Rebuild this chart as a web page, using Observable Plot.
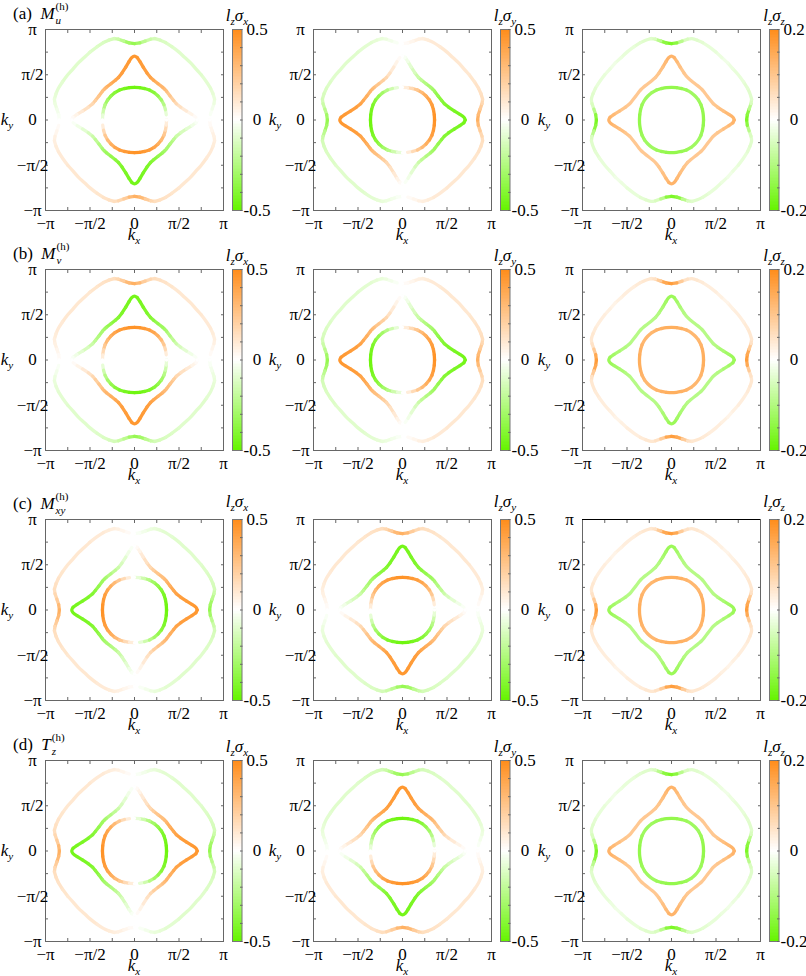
<!DOCTYPE html>
<html><head><meta charset="utf-8">
<script src="https://cdn.jsdelivr.net/npm/d3@7"></script>
<script src="https://cdn.jsdelivr.net/npm/@observablehq/plot@0.6"></script>
<style>
body{margin:0;background:#fff;}
#root{position:relative;width:806px;height:976px;font-family:"Liberation Serif","Times New Roman",Times,"DejaVu Serif",serif;color:#000;overflow:hidden;}
.abs{position:absolute;white-space:nowrap;line-height:20px;height:20px;}
.it{font-style:italic;}
.lab{font-size:17px;}
.sb{font-size:11px;position:relative;top:4px;}
.ss{position:relative;display:inline-block;width:22px;height:20px;vertical-align:top;}
.ss span{position:absolute;left:1px;font-size:11px;line-height:11px;}
</style>
</head><body><div id="root"></div>
<script>
// ---------- DATA ----------
// Fermi-surface contours, first octant (from +kx axis to the diagonal); kx, ky in units of π
const innerKx  = [0.360, 0.357, 0.348, 0.331, 0.303, 0.265];
const innerKy  = [0.000, 0.057, 0.113, 0.168, 0.220, 0.265];
const middleKx = [0.705, 0.690, 0.645, 0.585, 0.520, 0.470, 0.440, 0.400, 0.360, 0.340];
const middleKy = [0.000, 0.030, 0.062, 0.098, 0.140, 0.180, 0.215, 0.265, 0.318, 0.340];
const outerKx  = [0.844, 0.852, 0.872, 0.893, 0.900, 0.882, 0.855, 0.810, 0.750, 0.690, 0.631];
const outerKy  = [0.000, 0.060, 0.120, 0.180, 0.230, 0.290, 0.350, 0.420, 0.500, 0.565, 0.631];

// odd texture (lzσx of panel a) along the first quadrant, from +kx axis to +ky axis
const oddInner  = [0, -0.08, -0.16, -0.24, -0.30, -0.35, -0.39, -0.42, -0.44, -0.46, -0.47];
const oddMiddle = [0, 0.02, 0.05, 0.09, 0.13, 0.17, 0.21, 0.25, 0.28, 0.30, 0.32, 0.35, 0.38, 0.40, 0.42, 0.43, 0.44, 0.45, 0.45];
const oddOuter  = [0, -0.02, -0.04, -0.06, -0.07, -0.08, -0.09, -0.09, -0.10, -0.10, -0.10,
                   -0.10, -0.10, -0.11, -0.12, -0.13, -0.14, -0.17, -0.22, -0.30, -0.34];
// even texture (lzσz of panel a) along the first octant
const evenInner  = [-0.14, -0.14, -0.135, -0.13, -0.125, -0.125];
const evenMiddle = [0.13, 0.13, 0.12, 0.11, 0.10, 0.095, 0.095, 0.095, 0.095, 0.095];
const evenOuter  = [-0.17, -0.15, -0.09, -0.05, -0.04, -0.04, -0.035, -0.03, -0.03, -0.025, -0.02];

// panels: texture (A = ky-odd, B = kx-odd, E = even) and its sign
const rowTags = ["(a)", "(b)", "(c)", "(d)"];
const rowOps = [["M", "u"], ["M", "v"], ["M", "xy"], ["T", "z"]];
const colComponents = ["x", "y", "z"];
const colRanges = [0.5, 0.5, 0.2];
const rowTextures = [["A", "B", "E"], ["A", "B", "E"], ["B", "A", "E"], ["B", "A", "E"]];
const rowSigns = [[1, 1, 1], [-1, 1, -1], [-1, -1, -1], [-1, 1, 1]];

const axisTicks = [-1, -0.5, 0, 0.5, 1];
const axisTickLabels = ["−π", "−π/2", "0", "π/2", "π"];
const minorTicks = [-0.75, -0.5, -0.25, 0, 0.25, 0.5, 0.75];

// ---------- LAYOUT ----------
const FONT = '"Liberation Serif", "Times New Roman", Times, "DejaVu Serif", serif';
const frameTops = [29, 269, 519, 760];
const frameLefts = [45, 313, 582];
const FW = 178, FH = 181;
const titleGap = [11, 11, 15, 11];
const ORANGE = "#ff8c19", GREEN = "#66f500";

const bands = [
  {kx: outerKx, ky: outerKy, odd: oddOuter, even: evenOuter},
  {kx: middleKx, ky: middleKy, odd: oddMiddle, even: evenMiddle},
  {kx: innerKx, ky: innerKy, odd: oddInner, even: evenInner}
];

function quadrant(kxs, kys) {
  const n = kxs.length - 1, qx = [], qy = [];
  for (let k = 0; k <= 2 * n; k++) {
    if (k <= n) { qx.push(kxs[k]); qy.push(kys[k]); }
    else { qx.push(kys[2 * n - k]); qy.push(kxs[2 * n - k]); }
  }
  return [qx, qy];
}
function loop(band, texture, sign, id) {
  const [qx, qy] = quadrant(band.kx, band.ky);
  const m = qx.length - 1, n = band.even.length - 1;
  const ev = k => band.even[k <= n ? k : 2 * n - k];
  const val = (k, sx, sy) => sign * (texture === "A" ? sy * band.odd[k]
                                   : texture === "B" ? -sx * band.odd[m - k] : ev(k));
  const pts = [];
  for (let k = 0; k <= m; k++) pts.push({kx: qx[k], ky: qy[k], v: val(k, 1, 1)});
  for (let j = 1; j <= m; j++) { const k = m - j; pts.push({kx: -qx[k], ky: qy[k], v: val(k, -1, 1)}); }
  for (let j = 1; j <= m; j++) { const k = j; pts.push({kx: -qx[k], ky: -qy[k], v: val(k, -1, -1)}); }
  for (let j = 1; j <= m; j++) { const k = m - j; pts.push({kx: qx[k], ky: -qy[k], v: val(k, 1, -1)}); }
  return pts.map(p => ({...p, band: id}));
}

const root = document.getElementById("root");
function place(node, left, top) {
  node.style.position = "absolute"; node.style.left = left + "px"; node.style.top = top + "px";
  root.appendChild(node);
}
function html(str, x, y, cls, anchor) {
  const d = document.createElement("div");
  d.className = "abs " + (cls || "");
  d.innerHTML = str;
  d.style.left = x + "px"; d.style.top = y + "px";
  d.style.transform = anchor || "translate(-50%,-50%)";
  root.appendChild(d);
}
const tickFmt = d => axisTickLabels[axisTicks.indexOf(d)];
const ML = 45, MR = 6, MT = 6, MB = 26;
const plotStyle = {fontFamily: FONT, fontSize: "17px", color: "#000", background: "transparent", overflow: "visible"};

for (let r = 0; r < 4; r++) {
  for (let c = 0; c < 3; c++) {
    const R = colRanges[c];
    const colorScale = {type: "linear", domain: [-R, 0, R], range: [GREEN, "#ffffff", ORANGE], clamp: true};
    const data = bands.flatMap((b, i) => loop(b, rowTextures[r][c], rowSigns[r][c], i));
    const left = frameLefts[c], top = frameTops[r];
    const chart = Plot.plot({
      width: FW + ML + MR, height: FH + MT + MB,
      marginLeft: ML, marginRight: MR, marginTop: MT, marginBottom: MB,
      x: {domain: [-1, 1]}, y: {domain: [-1, 1]},
      color: colorScale,
      style: plotStyle,
      marks: [
        bands.map((b, i) => Plot.line(data.filter(d => d.band === i), {
          x: "kx", y: "ky", z: null, stroke: "v", strokeWidth: 3.3,
          curve: "catmull-rom", strokeLinecap: "round", strokeLinejoin: "round"
        })),
        Plot.frame({stroke: "#666", strokeWidth: 1}),
        (r === 2 && c === 2) ? Plot.ruleY([1], {stroke: "#000", strokeWidth: 1.2}) : null,
        Plot.axisX(minorTicks, {anchor: "bottom", tickSize: -3, tickFormat: () => "", label: null, stroke: "#666"}),
        Plot.axisX(minorTicks, {anchor: "top", tickSize: -3, tickFormat: () => "", label: null, stroke: "#666"}),
        Plot.axisY(minorTicks, {anchor: "left", tickSize: -3, tickFormat: () => "", label: null, stroke: "#666"}),
        Plot.axisY(minorTicks, {anchor: "right", tickSize: -3, tickFormat: () => "", label: null, stroke: "#666"}),
        Plot.text(axisTicks, {x: d => d, frameAnchor: "bottom", dy: 6, lineAnchor: "top", text: tickFmt, fontSize: 17, fontFamily: FONT}),
        Plot.text(axisTicks, {y: d => d, frameAnchor: "left", dx: -13, textAnchor: "middle", text: tickFmt, fontSize: 17, fontFamily: FONT})
      ]
    });
    place(chart, left - ML, top - MT);

    // colour bar
    const barLeft = left + 187, barW = 8.5;
    const steps = d3.range(120).map(i => {
      const y1 = -R + 2 * R * i / 120, y2 = -R + 2 * R * (i + 1) / 120;
      return {y1, y2, v: (y1 + y2) / 2};
    });
    const barTicks = d3.range(-R, R + 1e-9, R === 0.5 ? 0.1 : 0.05).map(v => +v.toFixed(3));
    const bar = Plot.plot({
      width: barW + 2 + 40, height: FH + 2,
      marginLeft: 1, marginRight: 40, marginTop: 1, marginBottom: 1,
      x: {domain: [0, 1], axis: null}, y: {domain: [-R, R], axis: null},
      color: colorScale,
      style: plotStyle,
      marks: [
        Plot.rect(steps, {x1: 0, x2: 1, y1: "y1", y2: "y2", fill: "v", shapeRendering: "crispEdges"}),
        Plot.frame({stroke: "#777"}),
        Plot.axisY(barTicks, {anchor: "right", tickSize: -2.5, tickFormat: () => "", label: null, stroke: "#666"}),
        Plot.text([R, 0, -R], {y: d => d, frameAnchor: "right", dx: 15, textAnchor: "middle", fontFamily: FONT,
          text: d => (d < 0 ? "-" : "") + (d === 0 ? "0" : Math.abs(d).toFixed(1)), fontSize: 17})
      ]
    });
    place(bar, barLeft - 1, top - 1);

    // labels
    html('<span class="it">k</span><span class="sb it">x</span>', left + FW / 2, top + FH + 25, "lab");
    html('<span class="it">k</span><span class="sb it">y</span>', left - 38, top + FH / 2, "lab");
    html('<span class="it">l</span><span class="sb it">z</span><span class="it">σ</span><span class="sb it">' + colComponents[c] + '</span>',
      barLeft + 5, top - titleGap[r] - 2, "lab");
    if (c === 0) {
      html(rowTags[r] + '&nbsp; <span class="it">' + rowOps[r][0] + '</span><span class="ss"><span style="top:-3px">(h)</span><span class="it" style="top:11px">' +
        rowOps[r][1] + '</span></span>', 13, top - 15, "lab", "translate(0,-50%)");
    }
  }
}
</script>
</body></html>
